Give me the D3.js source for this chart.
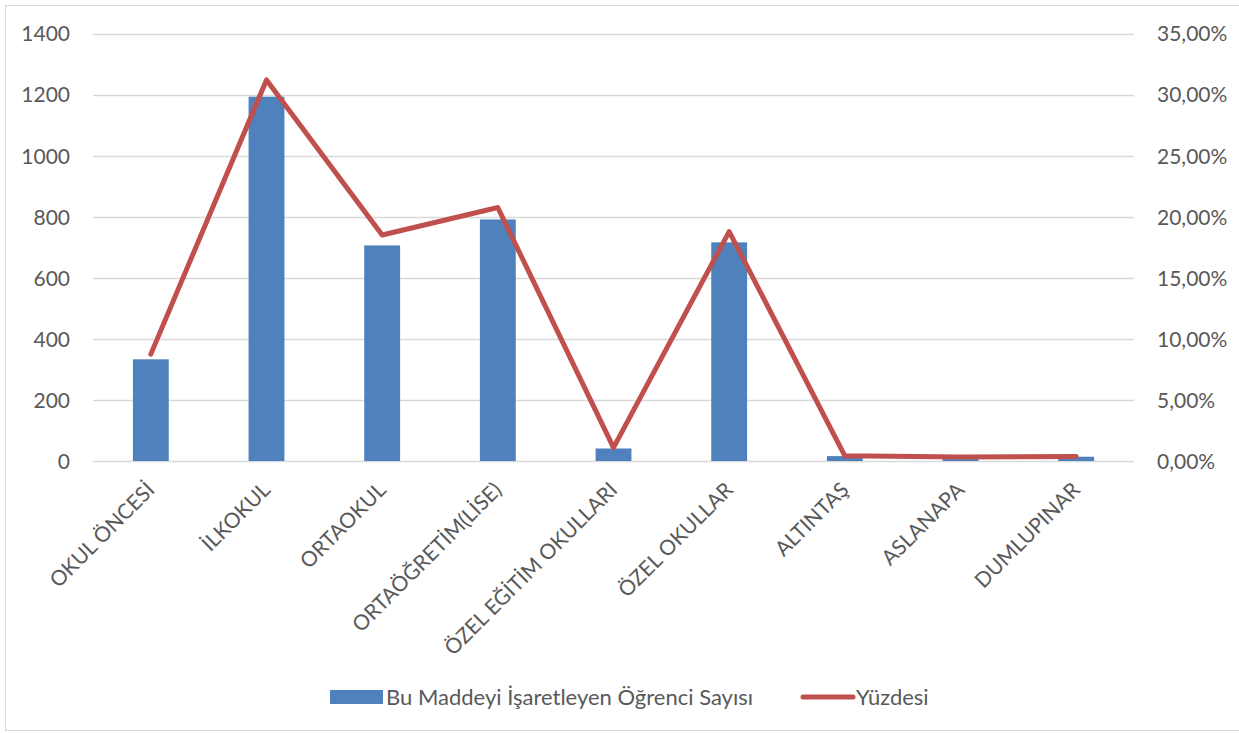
<!DOCTYPE html>
<html>
<head>
<meta charset="utf-8">
<script src="https://cdn.jsdelivr.net/npm/d3@7"></script>
<style>
  body { margin: 0; background: #fff; }
  text { font-family: Lato, "Open Sans", sans-serif; fill: #595959; }
</style>
</head>
<body>
<div id="chart"></div>
<script>
// Data
var categories = ["OKUL ÖNCESİ", "İLKOKUL", "ORTAOKUL", "ORTAÖĞRETİM(LİSE)", "ÖZEL EĞİTİM OKULLARI",
  "ÖZEL OKULLAR", "ALTINTAŞ", "ASLANAPA", "DUMLUPINAR"];
var counts = [333, 1193, 706, 791, 41, 716, 16, 11, 14];
var percents = [0.0875, 0.312, 0.185, 0.2075, 0.011, 0.1878, 0.0042, 0.0033, 0.0037];
var leftTicks = [0, 200, 400, 600, 800, 1000, 1200, 1400];
var rightTicks = [0, 0.05, 0.10, 0.15, 0.20, 0.25, 0.30, 0.35];
var seriesNames = ["Bu Maddeyi İşaretleyen Öğrenci Sayısı", "Yüzdesi"];

var width = 1239,
  height = 733;
var plot = { left: 93, right: 1134, top: 33.5, bottom: 461 };

var svg = d3.select("#chart")
  .append("svg")
  .attr("width", width)
  .attr("height", height);

// outer frame
svg.append("rect")
  .attr("x", 5.5)
  .attr("y", 5.5)
  .attr("width", 1240)
  .attr("height", 725)
  .attr("fill", "none")
  .attr("stroke", "#d9d9d9");

// scales
var x = d3.scaleBand()
  .domain(categories)
  .range([plot.left, plot.right])
  .paddingInner(0.69)
  .paddingOuter(0.345);

var y = d3.scaleLinear()
  .domain([0, 1400])
  .range([plot.bottom, plot.top]);

var y2 = d3.scaleLinear()
  .domain([0, 0.35])
  .range([plot.bottom, plot.top]);

// gridlines
svg.append("g")
  .selectAll("line")
  .data(leftTicks)
  .enter().append("line")
  .attr("x1", plot.left)
  .attr("x2", plot.right)
  .attr("y1", function(d) { return Math.round(y(d)) + 0.5; })
  .attr("y2", function(d) { return Math.round(y(d)) + 0.5; })
  .attr("stroke", "#d9d9d9")
  .attr("stroke-width", 1.3);

// left axis
var leftAxis = svg.append("g")
  .attr("transform", "translate(" + (plot.left - 23) + ",0)")
  .call(d3.axisLeft(y).tickValues(leftTicks).tickSize(0).tickPadding(0)
    .tickFormat(function(d) { return String(d); }));
leftAxis.select(".domain").remove();
leftAxis.selectAll("text")
  .style("font-size", "21px")
  .attr("dy", "0.35em");

// right axis
var rightAxis = svg.append("g")
  .attr("transform", "translate(" + (plot.right + 23) + ",0)")
  .call(d3.axisRight(y2).tickValues(rightTicks).tickSize(0).tickPadding(0)
    .tickFormat(function(d) { return d3.format(".2f")(d * 100).replace(".", ",") + "%"; }));
rightAxis.select(".domain").remove();
rightAxis.selectAll("text")
  .style("font-size", "21px")
  .attr("dy", "0.35em");

// bars
svg.append("g")
  .selectAll("rect")
  .data(counts)
  .enter().append("rect")
  .attr("x", function(d, i) { return x(categories[i]); })
  .attr("width", x.bandwidth())
  .attr("y", function(d) { return y(d); })
  .attr("height", function(d) { return y(0) - y(d); })
  .attr("fill", "#4f81bd");

// line
var line = d3.line()
  .x(function(d, i) { return x(categories[i]) + x.bandwidth() / 2; })
  .y(function(d) { return y2(d); });

svg.append("path")
  .datum(percents)
  .attr("d", line)
  .attr("fill", "none")
  .attr("stroke", "#c0504d")
  .attr("stroke-width", 5)
  .attr("stroke-linejoin", "round")
  .attr("stroke-linecap", "round");

// category labels
svg.append("g")
  .selectAll("text")
  .data(categories)
  .enter().append("text")
  .attr("transform", function(d) {
    return "translate(" + (x(d) + x.bandwidth() / 2) + ",486) rotate(-45)";
  })
  .attr("text-anchor", "end")
  .attr("dy", "0.35em")
  .style("font-size", "21px")
  .text(function(d) { return d; });

// legend
var legend = svg.append("g");
legend.append("rect")
  .attr("x", 330)
  .attr("y", 690)
  .attr("width", 53)
  .attr("height", 14)
  .attr("fill", "#4f81bd");
legend.append("text")
  .attr("x", 386)
  .attr("y", 697)
  .attr("dy", "0.35em")
  .style("font-size", "22px")
  .text(seriesNames[0]);
legend.append("line")
  .attr("x1", 803)
  .attr("x2", 853)
  .attr("y1", 697)
  .attr("y2", 697)
  .attr("stroke", "#c0504d")
  .attr("stroke-width", 5)
  .attr("stroke-linecap", "round");
legend.append("text")
  .attr("x", 856)
  .attr("y", 697)
  .attr("dy", "0.35em")
  .style("font-size", "22px")
  .text(seriesNames[1]);
</script>
</body>
</html>
